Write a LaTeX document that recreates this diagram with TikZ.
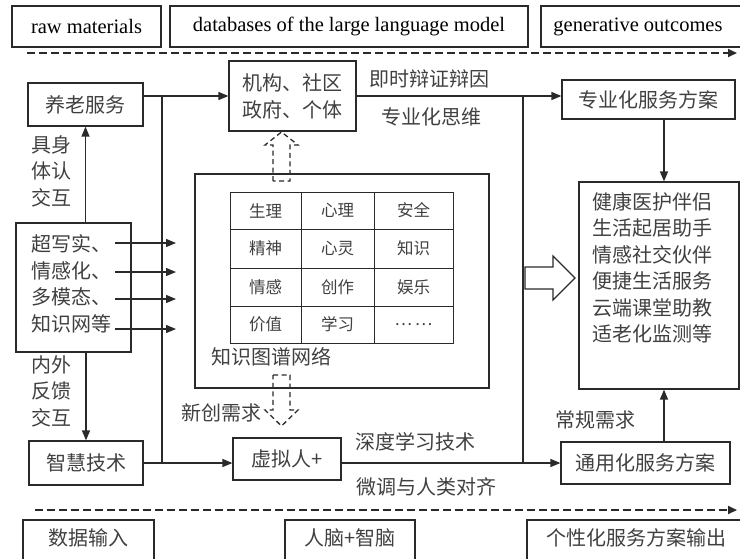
\documentclass[tikz,border=0pt]{standalone}
\usepackage{fontspec}
\setmainfont{Noto Sans CJK SC}
\newfontfamily\en{Liberation Serif}
\usetikzlibrary{arrows.meta}
\definecolor{ink}{HTML}{2A2A2A}
\definecolor{tx}{HTML}{404040}
\begin{document}
\begin{tikzpicture}[x=1pt,y=-1pt,
  box/.style={draw=ink,line width=1.2pt,inner sep=0pt,text=tx,font=\fontsize{20}{27}\selectfont,align=center},
  cell/.style={draw=ink,line width=1pt,inner sep=0pt,text=tx,font=\fontsize{16.5}{20}\selectfont},
  lbl/.style={inner sep=0pt,text=tx,font=\fontsize{20}{26.5}\selectfont,align=left},
  entxt/.style={inner sep=0pt,text=black,font=\en\fontsize{20.5}{24}\selectfont},
  arr/.style={draw=ink,line width=1.3pt,-{Triangle[length=10pt,width=8pt]}},
  ln/.style={draw=ink,line width=1.2pt},
  flow/.style={draw=ink,line width=1.8pt,dash pattern=on 8pt off 4pt,-{Triangle[length=9pt,width=8pt]}},
  dblock/.style={draw=ink,line width=1.3pt,dash pattern=on 5pt off 3.5pt},
  hblock/.style={draw=ink,line width=1.1pt}
]
\useasboundingbox (0,0) rectangle (740,558);

% top row
\node[box,minimum width=149pt,minimum height=41pt] (raw) at (86.5,26.5) {};
\node[entxt] (rawt) at (raw.center) {raw materials};
\node[box,minimum width=358pt,minimum height=41pt] (db) at (349,26.5) {};
\node[entxt] (dbt) at (db.center) {databases of the large language model};
\node[box,minimum width=210pt,minimum height=41pt] (gen) at (646,26.5) {};
\node[entxt] (gent) at (638,26.5) {generative outcomes};
\coordinate (fa1) at (27,53);
\coordinate (fa2) at (737,53);
\draw[flow] (fa1) -- (fa2);

% bottom row
\coordinate (fb1) at (35,510);
\coordinate (fb2) at (737,510);
\draw[flow] (fb1) -- (fb2);
\node[box,minimum width=131pt,minimum height=50pt] (sj) at (88.5,545) {};
\node[lbl] (sjt) at (88.5,538) {数据输入};
\node[box,minimum width=130pt,minimum height=50pt] (rn) at (350,545) {};
\node[lbl] (rnt) at (350,538) {人脑+智脑};
\node[box,minimum width=223pt,minimum height=50pt] (gx) at (638.5,545) {};
\node[lbl] (gxt) at (636,538) {个性化服务方案输出};

% left column
\node[box,minimum width=115pt,minimum height=43pt] (yl) at (85.5,104.5) {养老服务};
\node[box,minimum width=115pt,minimum height=129pt] (cx) at (73.5,287.5) {};
\node[lbl,anchor=west] (cxt) at (31,284) {超写实、\\情感化、\\多模态、\\知识网等};
\node[box,minimum width=114pt,minimum height=44pt] (zh) at (86,463) {智慧技术};
\draw[arr] (yl.south |- cx.north) -- (yl.south);
\draw[arr] (zh.north |- cx.south) -- (zh.north);
\node[lbl,anchor=west] (l1) at (31,171) {具身\\体认\\交互};
\node[lbl,anchor=west] (l2) at (31,391) {内外\\反馈\\交互};

% middle
\node[box,minimum width=127pt,minimum height=70pt] (jg) at (292.5,96) {机构、社区\\政府、个体};
\node[box,minimum width=294pt,minimum height=214pt] (kg) at (342,281) {};
\node[box,minimum width=108pt,minimum height=42pt] (xn) at (287,459) {虚拟人+};

% table
\node[cell,minimum width=71pt,minimum height=37pt] (t11) at (265.5,210.5) {生理};
\node[cell,minimum width=73pt,minimum height=37pt] (t12) at (337.5,210.5) {心理};
\node[cell,minimum width=79pt,minimum height=37pt] (t13) at (413.5,210.5) {安全};
\node[cell,minimum width=71pt,minimum height=39pt] (t21) at (265.5,248.5) {精神};
\node[cell,minimum width=73pt,minimum height=39pt] (t22) at (337.5,248.5) {心灵};
\node[cell,minimum width=79pt,minimum height=39pt] (t23) at (413.5,248.5) {知识};
\node[cell,minimum width=71pt,minimum height=38pt] (t31) at (265.5,287) {情感};
\node[cell,minimum width=73pt,minimum height=38pt] (t32) at (337.5,287) {创作};
\node[cell,minimum width=79pt,minimum height=38pt] (t33) at (413.5,287) {娱乐};
\node[cell,minimum width=71pt,minimum height=37pt] (t41) at (265.5,324.5) {价值};
\node[cell,minimum width=73pt,minimum height=37pt] (t42) at (337.5,324.5) {学习};
\node[cell,minimum width=79pt,minimum height=37pt] (t43) at (413.5,324.5) {…\,…};
\node[lbl,anchor=west] (kgt) at (211,357) {知识图谱网络};

% right column
\node[box,minimum width=173pt,minimum height=39pt] (zy) at (648.5,99.5) {专业化服务方案};
\node[box,minimum width=160pt,minimum height=207pt] (rb) at (659,285.5) {};
\node[lbl,anchor=west] (rbt) at (592,268) {健康医护伴侣\\生活起居助手\\情感社交伙伴\\便捷生活服务\\云端课堂助教\\适老化监测等};
\node[box,minimum width=169pt,minimum height=42pt] (ty) at (645.5,463) {通用化服务方案};

% connectors
\coordinate (v1t) at (162,96);
\coordinate (v1b) at (162,463);
\coordinate (v2t) at (523,96);
\coordinate (v2b) at (523,463);
\coordinate (ax) at (664,0);
\draw[arr] (yl.east |- jg.west) -- (jg.west);
\draw[arr] (jg.east) -- (jg.east -| zy.west);
\draw[ln] (v1t) -- (v1b);
\draw[ln] (v2t) -- (v2b);
\draw[arr] (zh.east) -- (zh.east -| xn.west);
\draw[arr] (zh.east -| xn.east) -- (zh.east -| ty.west);
\draw[arr] (zy.south -| ax) -- (rb.north -| ax);
\draw[arr] (ty.north -| ax) -- (rb.south -| ax);

% arrows from cx to kg
\foreach \yy/\nm in {243/a,272/b,299/c,329/d}{
  \coordinate (s\nm) at (115,\yy);
  \coordinate (e\nm) at (176,\yy);
  \draw[arr] (s\nm) -- (e\nm);
}

% labels
\node[lbl] (ls1) at (429,79) {即时辩证辩因};
\node[lbl] (ls2) at (431,117) {专业化思维};
\node[lbl] (ls3) at (221,413) {新创需求};
\node[lbl] (ls4) at (415,442) {深度学习技术};
\node[lbl] (ls5) at (426,487) {微调与人类对齐};
\node[lbl] (ls6) at (595,420) {常规需求};

% dashed block arrows
\draw[dblock] (273,181) -- (273,145) -- (265,145) -- (281.5,132) -- (298,145) -- (290,145) -- (290,181) -- cycle;
\draw[dblock] (273,375) -- (290,375) -- (290,410) -- (298,410) -- (281.5,426) -- (265,410) -- (273,410) -- cycle;
% hollow arrow
\draw[hblock] (525,267) -- (553,267) -- (553,256) -- (575,278) -- (553,300) -- (553,289) -- (525,289) -- cycle;
\end{tikzpicture}
\end{document}
